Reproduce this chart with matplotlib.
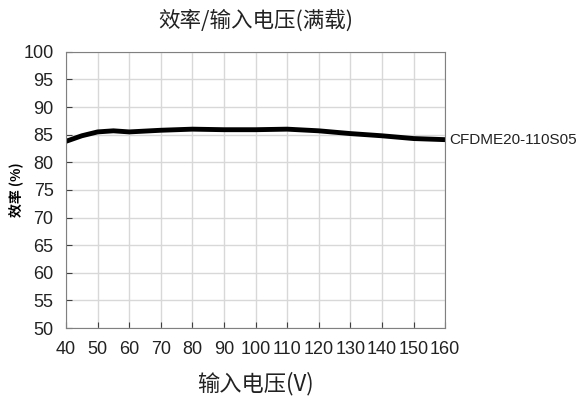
import matplotlib
matplotlib.use("Agg")
import matplotlib.pyplot as plt

plt.rcParams['font.family'] = ['Noto Sans CJK SC', 'DejaVu Sans']

vin = [40, 45, 50, 55, 60, 70, 80, 90, 100, 110, 120, 130, 140, 150, 160]
eff = [83.8, 84.8, 85.5, 85.7, 85.5, 85.8, 86.0, 85.9, 85.9, 86.0, 85.7, 85.2, 84.8, 84.3, 84.1]
model = 'CFDME20-110S05'

fig = plt.figure(figsize=(5.77, 4.08), dpi=100)
ax = fig.add_axes([0.1144, 0.196, 0.657, 0.677])

ax.plot(vin, eff, color='black', lw=3.5, solid_capstyle='round')
ax.text(1.012, (eff[-1] - 50) / 50, model, transform=ax.transAxes,
        fontsize=11, va='center', ha='left', family=['Liberation Sans'],
        color='#222222')

ax.set_xlim(40, 160)
ax.set_ylim(50, 100)
ax.set_xticks(range(40, 161, 10))
ax.set_yticks(range(50, 101, 5))
ax.grid(True, color='#d8d8d8', lw=1)
ax.tick_params(direction='in', length=4, labelsize=13, pad=9, color='#404040',
               labelcolor='#222222')
for s in ax.spines.values():
    s.set_color('#808080')
for lab in ax.get_xticklabels() + ax.get_yticklabels():
    lab.set_family(['Liberation Sans'])

ax.set_title('效率/输入电压(满载)', fontsize=15.5, pad=18, color='#222222')
ax.set_xlabel('输入电压(V)', fontsize=16, labelpad=10, color='#222222')
ax.set_ylabel('效率 (%)', fontsize=10, fontweight='bold', labelpad=0)

fig.savefig('out.png', dpi=100)
